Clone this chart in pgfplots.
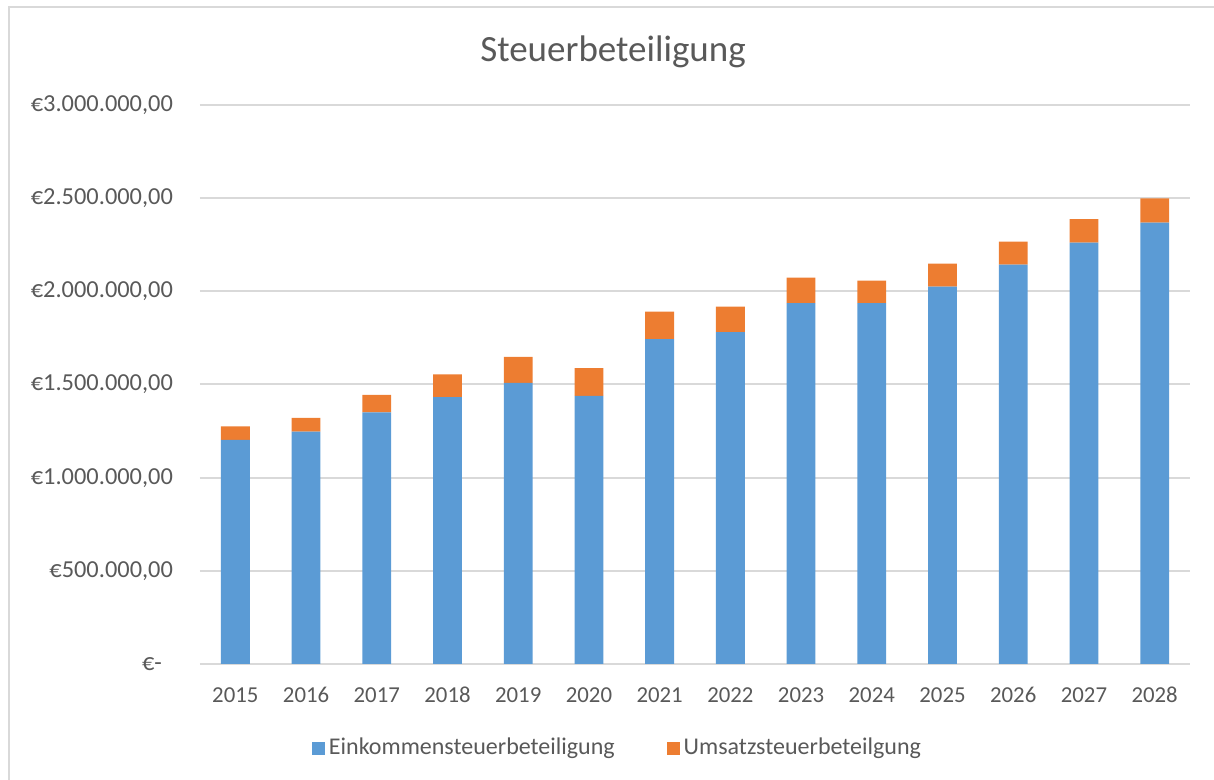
\documentclass[border=0pt]{standalone}
\usepackage{fontspec}
\setmainfont{Carlito}
\usepackage{pgfplots}
\pgfplotsset{compat=1.18}
\definecolor{eink}{HTML}{5B9BD5}
\definecolor{umsatz}{HTML}{ED7D31}
\definecolor{txt}{HTML}{595959}
\definecolor{gridgray}{HTML}{D9D9D9}

\begin{document}
\begin{tikzpicture}
  \path[use as bounding box] (-100pt,-58pt) rectangle (507pt,332pt);
  \draw[gridgray, line width=1pt] (-95.5pt,-60pt) -- (-95.5pt,328.5pt) -- (510pt,328.5pt);
  \begin{axis}[
    at={(0pt,0pt)}, anchor=south west,
    scale only axis, width=495pt, height=279.5pt,
    ybar stacked, bar width=14.4pt,
    xmin=-0.5, xmax=13.5, ymin=0, ymax=3000000,
    scaled y ticks=false,
    xtick={0,...,13},
    xticklabels={2015,2016,2017,2018,2019,2020,2021,2022,2023,2024,2025,2026,2027,2028},
    ytick={0,500000,1000000,1500000,2000000,2500000,3000000},
    yticklabels={{€-\kern5.5pt\null},{€500.000,00},{€1.000.000,00},{€1.500.000,00},{€2.000.000,00},{€2.500.000,00},{€3.000.000,00}},
    axis line style={draw=none},
    major tick length=0pt,
    ymajorgrids, grid style={gridgray, line width=1pt},
    tick label style={text=txt},
    yticklabel style={xshift=-10pt, font=\fontsize{12.2}{14}\selectfont},
    xticklabel style={font=\fontsize{11.4}{13}\selectfont, anchor=base, yshift=-19.5pt},
    legend columns=2,
    legend style={at={(0.4227,-0.1503)}, anchor=center, draw=none,
      font=\fontsize{12}{14}\selectfont, nodes={text=txt},
      /tikz/every even column/.append style={column sep=24pt}},
    legend image code/.code={\fill[#1] (0pt,-3.25pt) rectangle (6.5pt,3.25pt);},
  ]
    % Einkommensteuerbeteiligung
    \addplot[fill=eink, draw=none] coordinates {
      (0,1202700) (1,1247200) (2,1351000) (3,1431600) (4,1509000) (5,1439100) (6,1743400)
      (7,1781000) (8,1937000) (9,1937000) (10,2025100) (11,2143400) (12,2261700) (13,2369200)
    };
    % Umsatzsteuerbeteiligung
    \addplot[fill=umsatz, draw=none] coordinates {
      (0,73100) (1,73700) (2,93500) (3,122100) (4,139800) (5,148400) (6,147300)
      (7,136600) (8,136500) (9,120400) (10,123700) (11,123600) (12,125300) (13,129000)
    };
    \legend{Einkommensteuerbeteiligung, Umsatzsteuerbeteilgung}
  \end{axis}
  \node[text=txt, font=\fontsize{18.5}{22}\selectfont] at (206.5pt,306pt) {Steuerbeteiligung};
\end{tikzpicture}
\end{document}
